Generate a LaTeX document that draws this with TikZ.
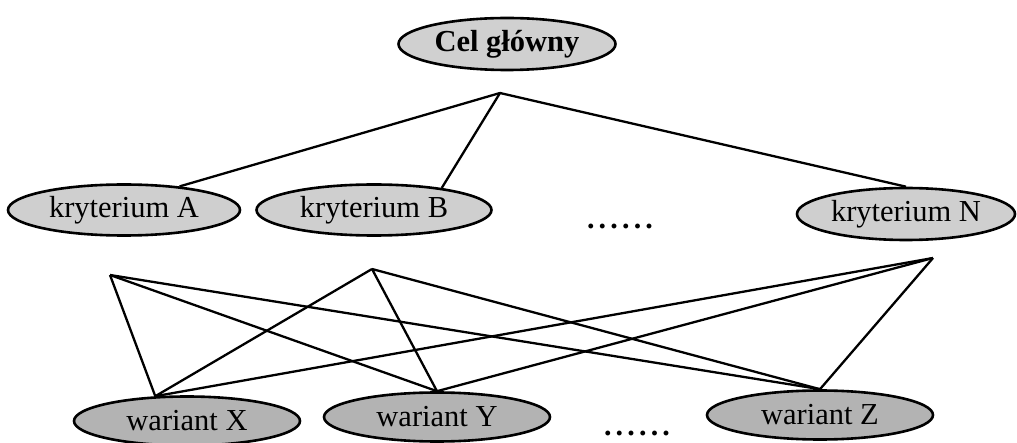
\documentclass[tikz,border=0pt]{standalone}
\usepackage{fontspec}
\setmainfont{Liberation Serif}
\usetikzlibrary{shapes.geometric}
\definecolor{topgray}{HTML}{D0D0D0}
\definecolor{critgray}{HTML}{CFCFCF}
\definecolor{vargray}{HTML}{B3B3B3}
\begin{document}
\begin{tikzpicture}[x=1pt,y=-1pt,
  oval/.style={ellipse, draw=black, line width=2.6pt, inner sep=0pt,
    font=\fontsize{30.5}{36}\selectfont},
  goal/.style={oval, fill=topgray, minimum width=217pt, minimum height=52pt,
    font=\bfseries\fontsize{30.5}{36}\selectfont},
  crit/.style={oval, fill=critgray, minimum height=51pt},
  var/.style={oval, fill=vargray, minimum width=226pt, minimum height=49pt},
  dots/.style={font=\bfseries\fontsize{30}{36}\selectfont\addfontfeature{LetterSpace=14}, inner sep=0pt},
  link/.style={line width=2.3pt}]
\useasboundingbox (0,0) rectangle (1017,443);

\node[goal] (goal) at (507,44) {Cel główny};

\node[crit, minimum width=232pt] (ka) at (124,210) {kryterium A};
\node[crit, minimum width=235pt] (kb) at (374,210) {kryterium B};
\node[crit, minimum width=218pt, minimum height=52pt] (kn) at (906,214) {kryterium N};
\node[dots] (d1) at (620,226) {......};

\node[var] (vx) at (187,421) {wariant X};
\node[var] (vy) at (437,417) {wariant Y};
\node[var] (vz) at (820,415) {wariant Z};
\node[dots] (d2) at (637,433) {......};

\coordinate (hub) at (500,93);
\coordinate (ha) at (110,275);
\coordinate (hb) at (372,269);
\coordinate (hn) at (933,258);

\draw[link] (hub) -- (ka.23);
\draw[link] (hub) -- (kb.18);
\draw[link] (hub) -- (kn.north);

\foreach \h in {ha,hb,hn} {
  \draw[link] (\h) -- (vx.142);
  \draw[link] (\h) -- (vy.north);
  \draw[link] (\h) -- (vz.north);
}
\end{tikzpicture}
\end{document}
